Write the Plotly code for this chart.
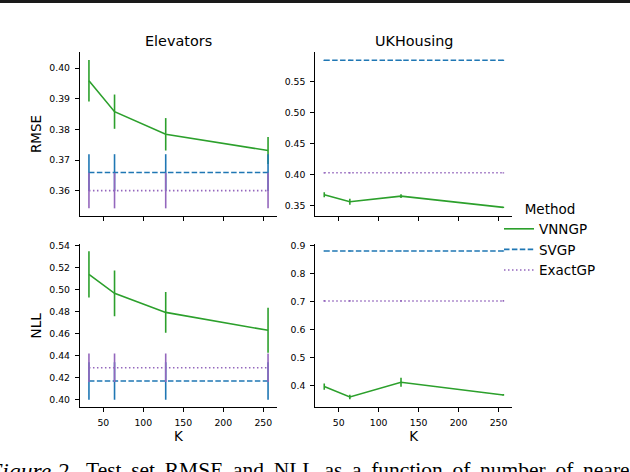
import plotly.graph_objects as go

# ---------------- data ----------------
K = [32, 64, 128, 256]
methods = ["VNNGP", "SVGP", "ExactGP"]

elev_rmse_vnngp = [0.3959, 0.3858, 0.3784, 0.3731]
elev_rmse_vnngp_err = [0.0068, 0.0056, 0.0053, 0.0044]
elev_rmse_svgp = [0.3659, 0.3659, 0.3659, 0.3659]
elev_rmse_svgp_err = [0.0060, 0.0060, 0.0060, 0.0060]
elev_rmse_exact = [0.3600, 0.3600, 0.3600, 0.3600]
elev_rmse_exact_err = [0.0058, 0.0058, 0.0058, 0.0058]

uk_rmse_vnngp = [0.3676, 0.3564, 0.3655, 0.3474]
uk_rmse_vnngp_err = [0.004, 0.005, 0.003, 0.001]
uk_rmse_svgp = [0.5837, 0.5837, 0.5837, 0.5837]
uk_rmse_svgp_err = [0.001, 0.001, 0.001, 0.001]
uk_rmse_exact = [0.4029, 0.4029, 0.4029, 0.4029]
uk_rmse_exact_err = [0.001, 0.001, 0.001, 0.001]

elev_nll_vnngp = [0.5140, 0.4967, 0.4794, 0.4631]
elev_nll_vnngp_err = [0.0210, 0.0208, 0.0185, 0.0205]
elev_nll_svgp = [0.4170, 0.4170, 0.4170, 0.4170]
elev_nll_svgp_err = [0.0170, 0.0170, 0.0170, 0.0170]
elev_nll_exact = [0.4291, 0.4291, 0.4291, 0.4291]
elev_nll_exact_err = [0.0130, 0.0130, 0.0130, 0.0130]

uk_nll_vnngp = [0.3953, 0.3582, 0.4110, 0.3654]
uk_nll_vnngp_err = [0.011, 0.008, 0.016, 0.003]
uk_nll_svgp = [0.882, 0.882, 0.882, 0.882]
uk_nll_svgp_err = [0.002, 0.002, 0.002, 0.002]
uk_nll_exact = [0.7027, 0.7027, 0.7027, 0.7027]
uk_nll_exact_err = [0.003, 0.003, 0.003, 0.003]

x_ticks = [50, 100, 150, 200, 250]
titles = ["Elevators", "UKHousing"]
caption_label = "<i>Figure 2.</i>"
caption_words = ["Test", "set", "RMSE", "and", "NLL", "as", "a", "function",
                 "of", "number", "of", "nearest", "neighbors"]

# ---------------- style ----------------
W, H = 630, 472
colors = {"VNNGP": "#2ca02c", "SVGP": "#1f77b4", "ExactGP": "#9467bd"}
dashes = {"VNNGP": "solid", "SVGP": "5.5px,2.4px", "ExactGP": "1.5px,2.5px"}
FONT = "DejaVu Sans"

def px_x(a, b):
    return [a / W, b / W]

def px_y(top, bottom):
    return [1 - bottom / H, 1 - top / H]

fig = go.Figure()

panels = [
    ("x", "y", (elev_rmse_vnngp, elev_rmse_vnngp_err, elev_rmse_svgp, elev_rmse_svgp_err,
                elev_rmse_exact, elev_rmse_exact_err), True),
    ("x2", "y2", (uk_rmse_vnngp, uk_rmse_vnngp_err, uk_rmse_svgp, uk_rmse_svgp_err,
                  uk_rmse_exact, uk_rmse_exact_err), False),
    ("x3", "y3", (elev_nll_vnngp, elev_nll_vnngp_err, elev_nll_svgp, elev_nll_svgp_err,
                  elev_nll_exact, elev_nll_exact_err), False),
    ("x4", "y4", (uk_nll_vnngp, uk_nll_vnngp_err, uk_nll_svgp, uk_nll_svgp_err,
                  uk_nll_exact, uk_nll_exact_err), False),
]

for xa, ya, d, show in panels:
    for i, m in enumerate(methods):
        vals, errs = d[2 * i], d[2 * i + 1]
        fig.add_trace(go.Scatter(
            x=K, y=vals, mode="lines", name=m, legendgroup=m, showlegend=show,
            line=dict(color=colors[m], width=1.6, dash=dashes[m]),
            error_y=dict(type="data", array=errs, visible=True, width=0,
                         thickness=1.6, color=colors[m]),
            xaxis=xa, yaxis=ya,
        ))

axis_common = dict(
    showline=True, linecolor="black", linewidth=1.2, ticks="outside",
    ticklen=4, tickwidth=1.1, tickcolor="black", showgrid=False, zeroline=False,
    automargin=False,
    tickfont=dict(family=FONT, size=9.3, color="black"),
)

colx = [px_x(80, 277), px_x(315.3, 512.3)]
rowy = [px_y(52, 216), px_y(244.3, 407.3)]
yranges = [[0.3517, 0.4053], [0.3335, 0.597], [0.3931, 0.5413], [0.321, 0.906]]
ytickvals = [
    [0.36, 0.37, 0.38, 0.39, 0.40],
    [0.35, 0.40, 0.45, 0.50, 0.55],
    [0.40, 0.42, 0.44, 0.46, 0.48, 0.50, 0.52, 0.54],
    [0.4, 0.5, 0.6, 0.7, 0.8, 0.9],
]
yfmt = [".2f", ".2f", ".2f", ".1f"]
ytitles = ["RMSE", "", "NLL", ""]

layout = {}
for idx in range(4):
    r, c = divmod(idx, 2)
    sfx = "" if idx == 0 else str(idx + 1)
    layout["xaxis" + sfx] = dict(
        axis_common, domain=colx[c], range=[20.8, 267.2], tickvals=x_ticks,
        showticklabels=(r == 1), anchor="y" + sfx, ticklabelstandoff=2,
        title=dict(text="K" if r == 1 else "", font=dict(family=FONT, size=13.5, color="black"),
                   standoff=2),
    )
    layout["yaxis" + sfx] = dict(
        axis_common, domain=rowy[r], range=yranges[idx], tickvals=ytickvals[idx],
        tickformat=yfmt[idx], anchor="x" + sfx, ticklabelstandoff=3,
        title=dict(text=ytitles[idx], font=dict(family=FONT, size=13.5, color="black"),
                   standoff=4),
    )

annotations = []
for c, t in enumerate(titles):
    annotations.append(dict(
        text=t, x=sum(colx[c]) / 2, y=1 - 40.7 / H, xref="paper", yref="paper",
        xanchor="center", yanchor="middle", showarrow=False,
        font=dict(family=FONT, size=14.4, color="black"),
    ))
cap_font = dict(family="Liberation Serif", size=21.5, color="black")
annotations.append(dict(
    text=caption_label, x=77 / W, y=1 - 456 / H, xref="paper", yref="paper",
    xanchor="right", yanchor="top", showarrow=False,
    font=dict(family="Liberation Serif", size=23.5, color="black"),
))
annotations.append(dict(
    text=" \u2009".join(caption_words), x=84 / W, y=1 - 456 / H, xref="paper", yref="paper",
    xanchor="left", yanchor="top", showarrow=False, font=cap_font,
))

fig.update_layout(
    **layout,
    width=W, height=H,
    margin=dict(l=0, r=0, t=0, b=0),
    paper_bgcolor="white", plot_bgcolor="white",
    font=dict(family=FONT, color="black"),
    annotations=annotations,
    shapes=[dict(type="rect", xref="paper", yref="paper", x0=0, x1=1,
                 y0=1 - 3 / H, y1=1, fillcolor="#1a1a1a", line=dict(width=0))],
    legend=dict(
        x=499 / W, y=1 - 196 / H, xanchor="left", yanchor="top",
        title=dict(text="Method", side="top center",
                   font=dict(family=FONT, size=13.5, color="black")),
        font=dict(family=FONT, size=13.5, color="black"),
        bgcolor="rgba(0,0,0,0)", itemwidth=30, tracegroupgap=0,
    ),
)

fig.write_html(
    "out.html",
    config={"displayModeBar": False},
    post_script="document.body.style.margin='0';document.body.style.padding='0';",
)
